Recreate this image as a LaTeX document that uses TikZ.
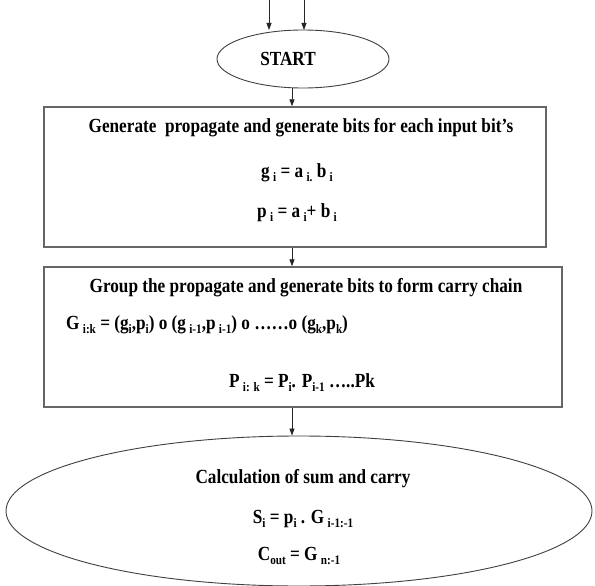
\documentclass[tikz,border=0pt]{standalone}
\usepackage{fontspec}
\setmainfont{Liberation Serif}[FakeStretch=0.86]
\usetikzlibrary{shapes.geometric,arrows.meta}
\newcommand{\lowr}[1]{\raisebox{-0.45ex}{\fontsize{13}{13}\selectfont #1}}
\tikzset{
  box/.style={draw=black!60, line width=1.4pt, rectangle, inner sep=0pt},
  oval/.style={draw=black!75, line width=0.9pt, ellipse, inner sep=0pt},
  txt/.style={font=\fontsize{20}{22}\selectfont\bfseries, inner sep=0pt, anchor=center},
  arr/.style={draw=black!85, line width=0.8pt, -{Triangle[length=7pt,width=5pt]}}
}
\begin{document}
\begin{tikzpicture}[x=1pt,y=-1pt]
\useasboundingbox (0,0) rectangle (595,586);
\fill[white] (0,0) rectangle (595,586);
% start ellipse
\node[oval, minimum width=172pt, minimum height=58pt] (start) at (303,59) {};
\node[txt] (starttxt) at (288,59) {START};
\coordinate (in1) at (269,0);
\coordinate (in2) at (304,0);
\coordinate (in1e) at (269,30);
\coordinate (in2e) at (304,30);
\draw[arr] (in1) -- (in1e);
\draw[arr] (in2) -- (in2e);
% box 1
\node[box, minimum width=502pt, minimum height=140pt] (b1) at (295,177) {};
\node[txt] (t1) at (301,128) {Generate\ \ propagate and generate bits for each input bit's};
\node[txt] (t2) at (297,173) {g\,\lowr{i} = a\,\lowr{i.} b\,\lowr{i}};
\node[txt] (t3) at (297,213) {p\,\lowr{i} = a\,\lowr{i}+ b\,\lowr{i}};
% box 2
\node[box, minimum width=518pt, minimum height=140pt] (b2) at (303,337) {};
\node[txt] (u1) at (306,288) {Group the propagate and generate bits to form carry chain};
\node[txt, anchor=west] (u2) at (66,325) {G\,\lowr{i:k} = (g\lowr{i},p\lowr{i}) o (g\,\lowr{i-1},p\,\lowr{i-1}) o \dots\dots o (g\lowr{k},p\lowr{k})};
\node[txt] (u3) at (302,383) {P\,\lowr{i: k} = P\lowr{i}. P\lowr{i-1} \dots..Pk};
% big ellipse
\node[oval, minimum width=586pt, minimum height=150pt] (calc) at (299,511) {};
\node[txt] (c1) at (303,479) {Calculation of sum and carry};
\node[txt] (c2) at (303,519) {S\lowr{i} = p\lowr{i} . G\,\lowr{i-1:-1}};
\node[txt] (c3) at (299,556) {C\lowr{out} = G\,\lowr{n:-1}};
% connectors
\draw[arr] (start.south -| 292,0) -- (b1.north -| 292,0);
\draw[arr] (b1.south -| 292,0) -- (b2.north -| 292,0);
\draw[arr] (b2.south -| 292,0) -- (calc.north -| 292,0);
\end{tikzpicture}
\end{document}
